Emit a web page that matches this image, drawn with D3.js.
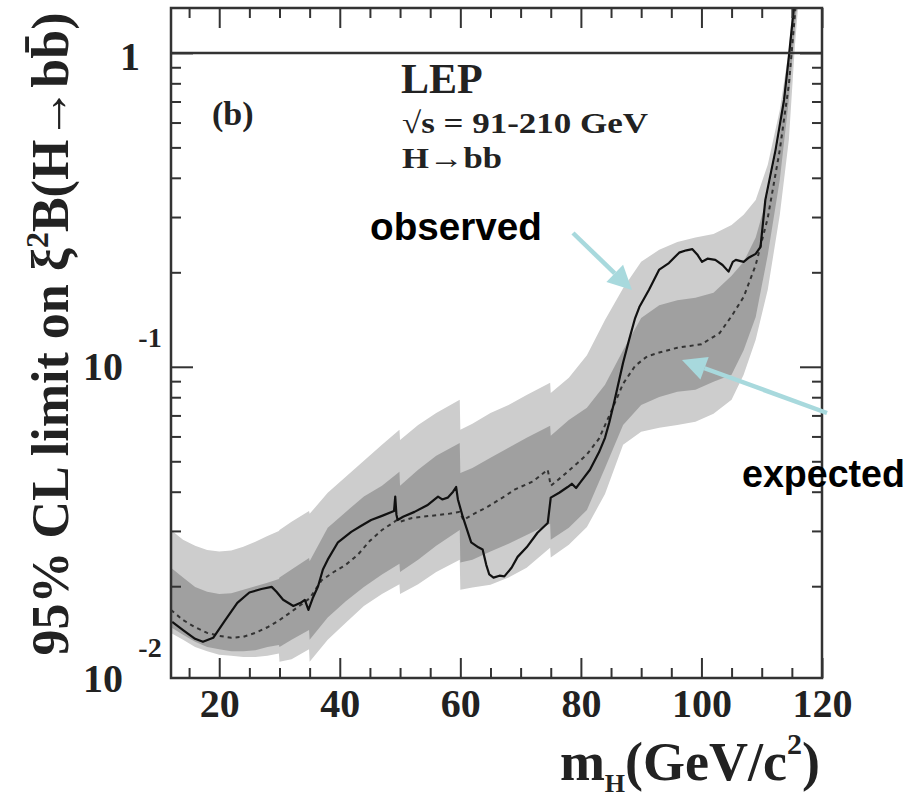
<!DOCTYPE html>
<html>
<head>
<meta charset="utf-8">
<script src="https://cdn.jsdelivr.net/npm/d3@7/dist/d3.min.js"></script>
<style>
  body { margin: 0; background: #fff; }
  svg text { font-family: "Liberation Serif", "DejaVu Serif", serif; font-weight: bold; }
  .note { font-family: "Liberation Sans", Arial, sans-serif; }
</style>
</head>
<body>
<div id="chart"></div>
<script>
// Higgs mass grid for the expected bands (GeV/c^2)
const bandMass = [12, 14, 16, 18, 20, 22, 24, 26, 28, 29.9, 30, 32, 34.9, 35, 38, 41, 44, 47, 49.9, 50,
  53, 56, 59.9, 60, 62, 65, 68, 71, 74.9, 75, 78, 81, 84, 87, 90, 93, 96, 99, 102, 105, 107, 109, 111,
  113, 114.5, 115.5, 116.5];
// +2 sigma edge (light band top)
const hi2 = [0.0302, 0.0281, 0.0269, 0.0261, 0.0258, 0.0260, 0.0267, 0.0277, 0.0289, 0.0300, 0.0302, 0.0321,
  0.0347, 0.0340, 0.0397, 0.0446, 0.0502, 0.0564, 0.0630, 0.0585, 0.0653, 0.0713, 0.0785, 0.0630, 0.0658,
  0.0713, 0.0756, 0.0813, 0.0889, 0.0825, 0.0922, 0.1088, 0.141, 0.178, 0.216, 0.236, 0.250, 0.258, 0.265,
  0.283, 0.305, 0.340, 0.440, 0.658, 1.02, 1.75, 2.6];
// +1 sigma edge (dark band top)
const hi1 = [0.0229, 0.0213, 0.0199, 0.0192, 0.0189, 0.0190, 0.0195, 0.0200, 0.0205, 0.0211, 0.0213, 0.0226,
  0.0246, 0.0240, 0.0307, 0.0345, 0.0386, 0.0418, 0.0463, 0.0418, 0.0470, 0.0521, 0.0572, 0.0459, 0.0476,
  0.0513, 0.0552, 0.0594, 0.0649, 0.0603, 0.0677, 0.0740, 0.0876, 0.113, 0.143, 0.157, 0.163, 0.166, 0.172,
  0.195, 0.216, 0.258, 0.353, 0.548, 0.95, 1.55, 2.4];
// -1 sigma edge (dark band bottom)
const lo1 = [0.0148, 0.0140, 0.0133, 0.0128, 0.0126, 0.0124, 0.0124, 0.0125, 0.0128, 0.0130, 0.0128, 0.0135,
  0.0145, 0.0135, 0.0159, 0.0179, 0.0199, 0.0218, 0.0236, 0.0222, 0.0243, 0.0269, 0.0302, 0.0238, 0.0243,
  0.0258, 0.0273, 0.0291, 0.0316, 0.0281, 0.0307, 0.0350, 0.0476, 0.0653, 0.0756, 0.0802, 0.0832, 0.0845,
  0.0896, 0.0943, 0.113, 0.144, 0.227, 0.394, 0.708, 1.2, 2.0];
// -2 sigma edge (light band bottom)
const lo2 = [0.0142, 0.0135, 0.0128, 0.0124, 0.0121, 0.0120, 0.0119, 0.0119, 0.0120, 0.0122, 0.0115, 0.0117,
  0.0126, 0.0115, 0.0135, 0.0153, 0.0173, 0.0189, 0.0203, 0.0189, 0.0203, 0.0222, 0.0243, 0.0195, 0.0198,
  0.0202, 0.0213, 0.0229, 0.0265, 0.0247, 0.0271, 0.0309, 0.0393, 0.0564, 0.0621, 0.0639, 0.0653, 0.0668,
  0.0708, 0.0785, 0.0943, 0.122, 0.176, 0.305, 0.528, 1.05, 1.8];

// median expected limit
const expMass = [12, 14, 16, 18, 20, 22, 24, 26, 28, 30, 32, 34, 35, 37, 39, 41, 43, 45, 47, 49.5, 50, 52, 55,
  58, 59.9, 60.5, 62, 64.5, 67, 69, 72, 74.5, 75, 77, 79.5, 81, 83, 85, 87, 89, 91, 93, 96, 100, 103, 105,
  107, 109, 111, 113, 114.5, 115.6, 116.5];
const expected = [0.0168, 0.0156, 0.0148, 0.0142, 0.0139, 0.0137, 0.0138, 0.0142, 0.0148, 0.0156, 0.0166,
  0.0177, 0.0183, 0.0209, 0.0222, 0.0234, 0.0252, 0.0279, 0.0302, 0.0325, 0.0321, 0.0330, 0.0335, 0.0340,
  0.0345, 0.0325, 0.0338, 0.0358, 0.0383, 0.0406, 0.0431, 0.0470, 0.0418, 0.0449, 0.0495, 0.0526, 0.0590,
  0.0719, 0.0883, 0.1007, 0.108, 0.111, 0.115, 0.118, 0.128, 0.145, 0.167, 0.211, 0.298, 0.491, 0.791,
  1.39, 2.2];

// observed limit
const obsMass = [12.2, 14, 16, 17.3, 19, 21, 23, 25, 27, 28.7, 29.5, 30.6, 32.3, 33.5, 34.2, 34.8, 35.5,
  36.4, 37.2, 38, 39.7, 41.9, 43.5, 45.2, 47, 49, 49.2, 49.4, 49.6, 50.5, 52.4, 54.5, 56.3, 57, 57.9, 58.8,
  59.3, 59.6, 60.4, 61.8, 63, 63.7, 64.3, 64.8, 65.5, 66.5, 67.3, 68.5, 69.5, 71, 72.8, 74.5, 75, 76.4,
  77.8, 78.5, 79.2, 80, 81.5, 83, 84, 84.7, 85.5, 86.1, 87, 88, 89, 89.7, 91.3, 93, 94.6, 96.3, 97.5, 98.5,
  99.3, 100.1, 101, 102.3, 103.5, 104.5, 105.2, 105.7, 107, 107.9, 109, 109.8, 110.6, 112.3, 113.7, 114.5,
  115.3, 116];
const observed = [0.0154, 0.0145, 0.0136, 0.0133, 0.0137, 0.0156, 0.0177, 0.0191, 0.0196, 0.0199, 0.0192,
  0.0181, 0.0173, 0.0177, 0.0181, 0.0168, 0.0183, 0.0200, 0.0226, 0.0243, 0.0276, 0.0298, 0.0311, 0.0325,
  0.0335, 0.0347, 0.0386, 0.0338, 0.0325, 0.0333, 0.0345, 0.0362, 0.0386, 0.0378, 0.0383, 0.0400, 0.0414,
  0.0378, 0.0333, 0.0276, 0.0266, 0.0262, 0.0234, 0.0218, 0.0213, 0.0216, 0.0215, 0.0229, 0.0248, 0.0266,
  0.0296, 0.0318, 0.0383, 0.0397, 0.0414, 0.0424, 0.0411, 0.0431, 0.0470, 0.0534, 0.0594, 0.0664, 0.0768,
  0.0864, 0.103, 0.122, 0.143, 0.155, 0.176, 0.204, 0.214, 0.231, 0.235, 0.237, 0.228, 0.216, 0.221, 0.219,
  0.211, 0.201, 0.216, 0.219, 0.216, 0.223, 0.229, 0.241, 0.340, 0.491, 0.708, 0.971, 1.37, 2.0];

// axis ticks
const xMajor = [20, 40, 60, 80, 100, 120];
const xMinor = [15, 25, 30, 35, 45, 50, 55, 65, 70, 75, 85, 90, 95, 105, 110, 115];
const yMajor = [0.1, 1];
const yMinor = [0.02, 0.03, 0.04, 0.05, 0.06, 0.07, 0.08, 0.09, 0.2, 0.3, 0.4, 0.5, 0.6, 0.7, 0.8, 0.9];

const W = 913, H = 799;
const frame = {left: 171, right: 822, top: 8, bottom: 678};

const svg = d3.select("#chart").append("svg")
    .attr("width", W)
    .attr("height", H);

const x = d3.scaleLinear().domain([12, 120]).range([frame.left, frame.right]);
const y = d3.scaleLog().domain([0.0102, 1.39]).range([frame.bottom, frame.top]);

svg.append("clipPath").attr("id", "plotclip")
    .append("rect")
    .attr("x", frame.left).attr("y", frame.top)
    .attr("width", frame.right - frame.left).attr("height", frame.bottom - frame.top);

const plot = svg.append("g").attr("clip-path", "url(#plotclip)");

const bandRows = bandMass.map((m, i) => ({m: m, hi2: hi2[i], hi1: hi1[i], lo1: lo1[i], lo2: lo2[i]}));

// +-2 sigma
plot.append("path")
    .datum(bandRows)
    .attr("fill", "#cdcdcd")
    .attr("d", d3.area().x(d => x(d.m)).y0(d => y(d.lo2)).y1(d => y(d.hi2)));

// +-1 sigma
plot.append("path")
    .datum(bandRows)
    .attr("fill", "#a0a0a0")
    .attr("d", d3.area().x(d => x(d.m)).y0(d => y(d.lo1)).y1(d => y(d.hi1)));

// expected (dashed)
plot.append("path")
    .datum(expMass.map((m, i) => [m, expected[i]]))
    .attr("fill", "none")
    .attr("stroke", "#333")
    .attr("stroke-width", 2)
    .attr("stroke-dasharray", "4,4")
    .attr("d", d3.line().x(d => x(d[0])).y(d => y(d[1])));

// observed (solid)
plot.append("path")
    .datum(obsMass.map((m, i) => [m, observed[i]]))
    .attr("fill", "none")
    .attr("stroke", "#111")
    .attr("stroke-width", 2.2)
    .attr("stroke-linejoin", "round")
    .attr("d", d3.line().x(d => x(d[0])).y(d => y(d[1])));

// line at 1
svg.append("line")
    .attr("x1", frame.left).attr("x2", frame.right)
    .attr("y1", y(1)).attr("y2", y(1))
    .attr("stroke", "#333").attr("stroke-width", 2.5);

// ticks pointing inward on all four sides
function addAxis(axis, transform, label) {
    const g = svg.append("g").attr("transform", transform).call(axis);
    g.select(".domain").remove();
    g.selectAll(".tick line").attr("stroke", "#333").attr("stroke-width", 2);
    if (!label) g.selectAll(".tick text").remove();
    return g;
}

const xAx = addAxis(d3.axisBottom(x).tickValues(xMajor).tickSize(-20).tickPadding(11).tickFormat(d3.format("d")),
    `translate(0,${frame.bottom})`, true);
xAx.selectAll(".tick text")
    .attr("fill", "#222")
    .style("font-size", "40px")
    .style("font-family", "'Liberation Serif', serif")
    .style("font-weight", "bold");
addAxis(d3.axisBottom(x).tickValues(xMinor).tickSize(-10), `translate(0,${frame.bottom})`, false);
addAxis(d3.axisTop(x).tickValues(xMajor).tickSize(-20), `translate(0,${frame.top})`, false);
addAxis(d3.axisTop(x).tickValues(xMinor).tickSize(-10), `translate(0,${frame.top})`, false);
addAxis(d3.axisLeft(y).tickValues(yMajor).tickSize(-22), `translate(${frame.left},0)`, false);
addAxis(d3.axisLeft(y).tickValues(yMinor).tickSize(-10), `translate(${frame.left},0)`, false);
addAxis(d3.axisRight(y).tickValues(yMajor).tickSize(-22), `translate(${frame.right},0)`, false);
addAxis(d3.axisRight(y).tickValues(yMinor).tickSize(-10), `translate(${frame.right},0)`, false);

// frame
svg.append("rect")
    .attr("x", frame.left).attr("y", frame.top)
    .attr("width", frame.right - frame.left).attr("height", frame.bottom - frame.top)
    .attr("fill", "none").attr("stroke", "#333").attr("stroke-width", 2.5);

// y tick labels (powers of ten)
const yLab = svg.append("g").attr("fill", "#222");
yLab.append("text").attr("x", 130).attr("y", y(1) + 17)
    .attr("text-anchor", "middle").style("font-size", "40px").text("1");
yLab.append("text").attr("x", 103).attr("y", y(0.1) + 13)
    .attr("text-anchor", "middle").style("font-size", "40px").text("10");
yLab.append("text").attr("x", 150).attr("y", y(0.1) - 20)
    .attr("text-anchor", "middle").style("font-size", "28px").text("-1");
yLab.append("text").attr("x", 103).attr("y", y(0.0102) + 14)
    .attr("text-anchor", "middle").style("font-size", "40px").text("10");
yLab.append("text").attr("x", 150).attr("y", y(0.0102) - 21)
    .attr("text-anchor", "middle").style("font-size", "28px").text("-2");

// y title
const yTitle = svg.append("text")
    .attr("transform", "translate(68,334) rotate(-90)")
    .attr("text-anchor", "middle")
    .attr("fill", "#222")
    .style("font-size", "52px");
yTitle.append("tspan").text("95% CL limit on \u03BE");
yTitle.append("tspan").attr("dy", -20).style("font-size", "32px").text("2");
yTitle.append("tspan").attr("dy", 20).text("B(H\u2192bb\u0304)");

// x title
const xTitle = svg.append("text")
    .attr("x", 820).attr("y", 780)
    .attr("text-anchor", "end")
    .attr("fill", "#222")
    .style("font-size", "54px");
xTitle.append("tspan").text("m");
xTitle.append("tspan").attr("dy", 12).style("font-size", "26px").text("H");
xTitle.append("tspan").attr("dy", -12).text("(GeV/c");
xTitle.append("tspan").attr("dy", -26).style("font-size", "30px").text("2");
xTitle.append("tspan").attr("dy", 26).text(")");

// in-plot labels
svg.append("text").attr("x", 212).attr("y", 125).attr("fill", "#222")
    .style("font-size", "34px").text("(b)");
svg.append("text").attr("x", 401).attr("y", 93).attr("fill", "#222")
    .style("font-size", "42px").text("LEP");
svg.append("text").attr("x", 402).attr("y", 133).attr("fill", "#222")
    .attr("textLength", 246).attr("lengthAdjust", "spacingAndGlyphs")
    .style("font-size", "30px").text("\u221As = 91-210 GeV");
svg.append("text").attr("x", 402).attr("y", 168).attr("fill", "#222")
    .attr("textLength", 100).attr("lengthAdjust", "spacingAndGlyphs")
    .style("font-size", "30px").text("H\u2192bb");

// annotations
svg.append("text").attr("class", "note").attr("x", 370).attr("y", 240)
    .attr("textLength", 172).attr("lengthAdjust", "spacingAndGlyphs")
    .style("font-size", "38px").text("observed");
svg.append("text").attr("class", "note").attr("x", 742).attr("y", 487)
    .attr("textLength", 163).attr("lengthAdjust", "spacingAndGlyphs")
    .style("font-size", "38px").text("expected");

function arrow(x1, y1, x2, y2) {
    const ang = Math.atan2(y2 - y1, x2 - x1);
    const len = 24, half = 12;
    const bx = x2 - len * Math.cos(ang), by = y2 - len * Math.sin(ang);
    svg.append("line")
        .attr("x1", x1).attr("y1", y1).attr("x2", bx).attr("y2", by)
        .attr("stroke", "#a8d9dd").attr("stroke-width", 4.5);
    svg.append("polygon")
        .attr("points", [
            [x2, y2],
            [bx + half * Math.sin(ang), by - half * Math.cos(ang)],
            [bx - half * Math.sin(ang), by + half * Math.cos(ang)]
        ].map(p => p.join(",")).join(" "))
        .attr("fill", "#a8d9dd");
}
arrow(573, 233, 632, 290);
arrow(827, 413, 682, 360);
</script>
</body>
</html>
